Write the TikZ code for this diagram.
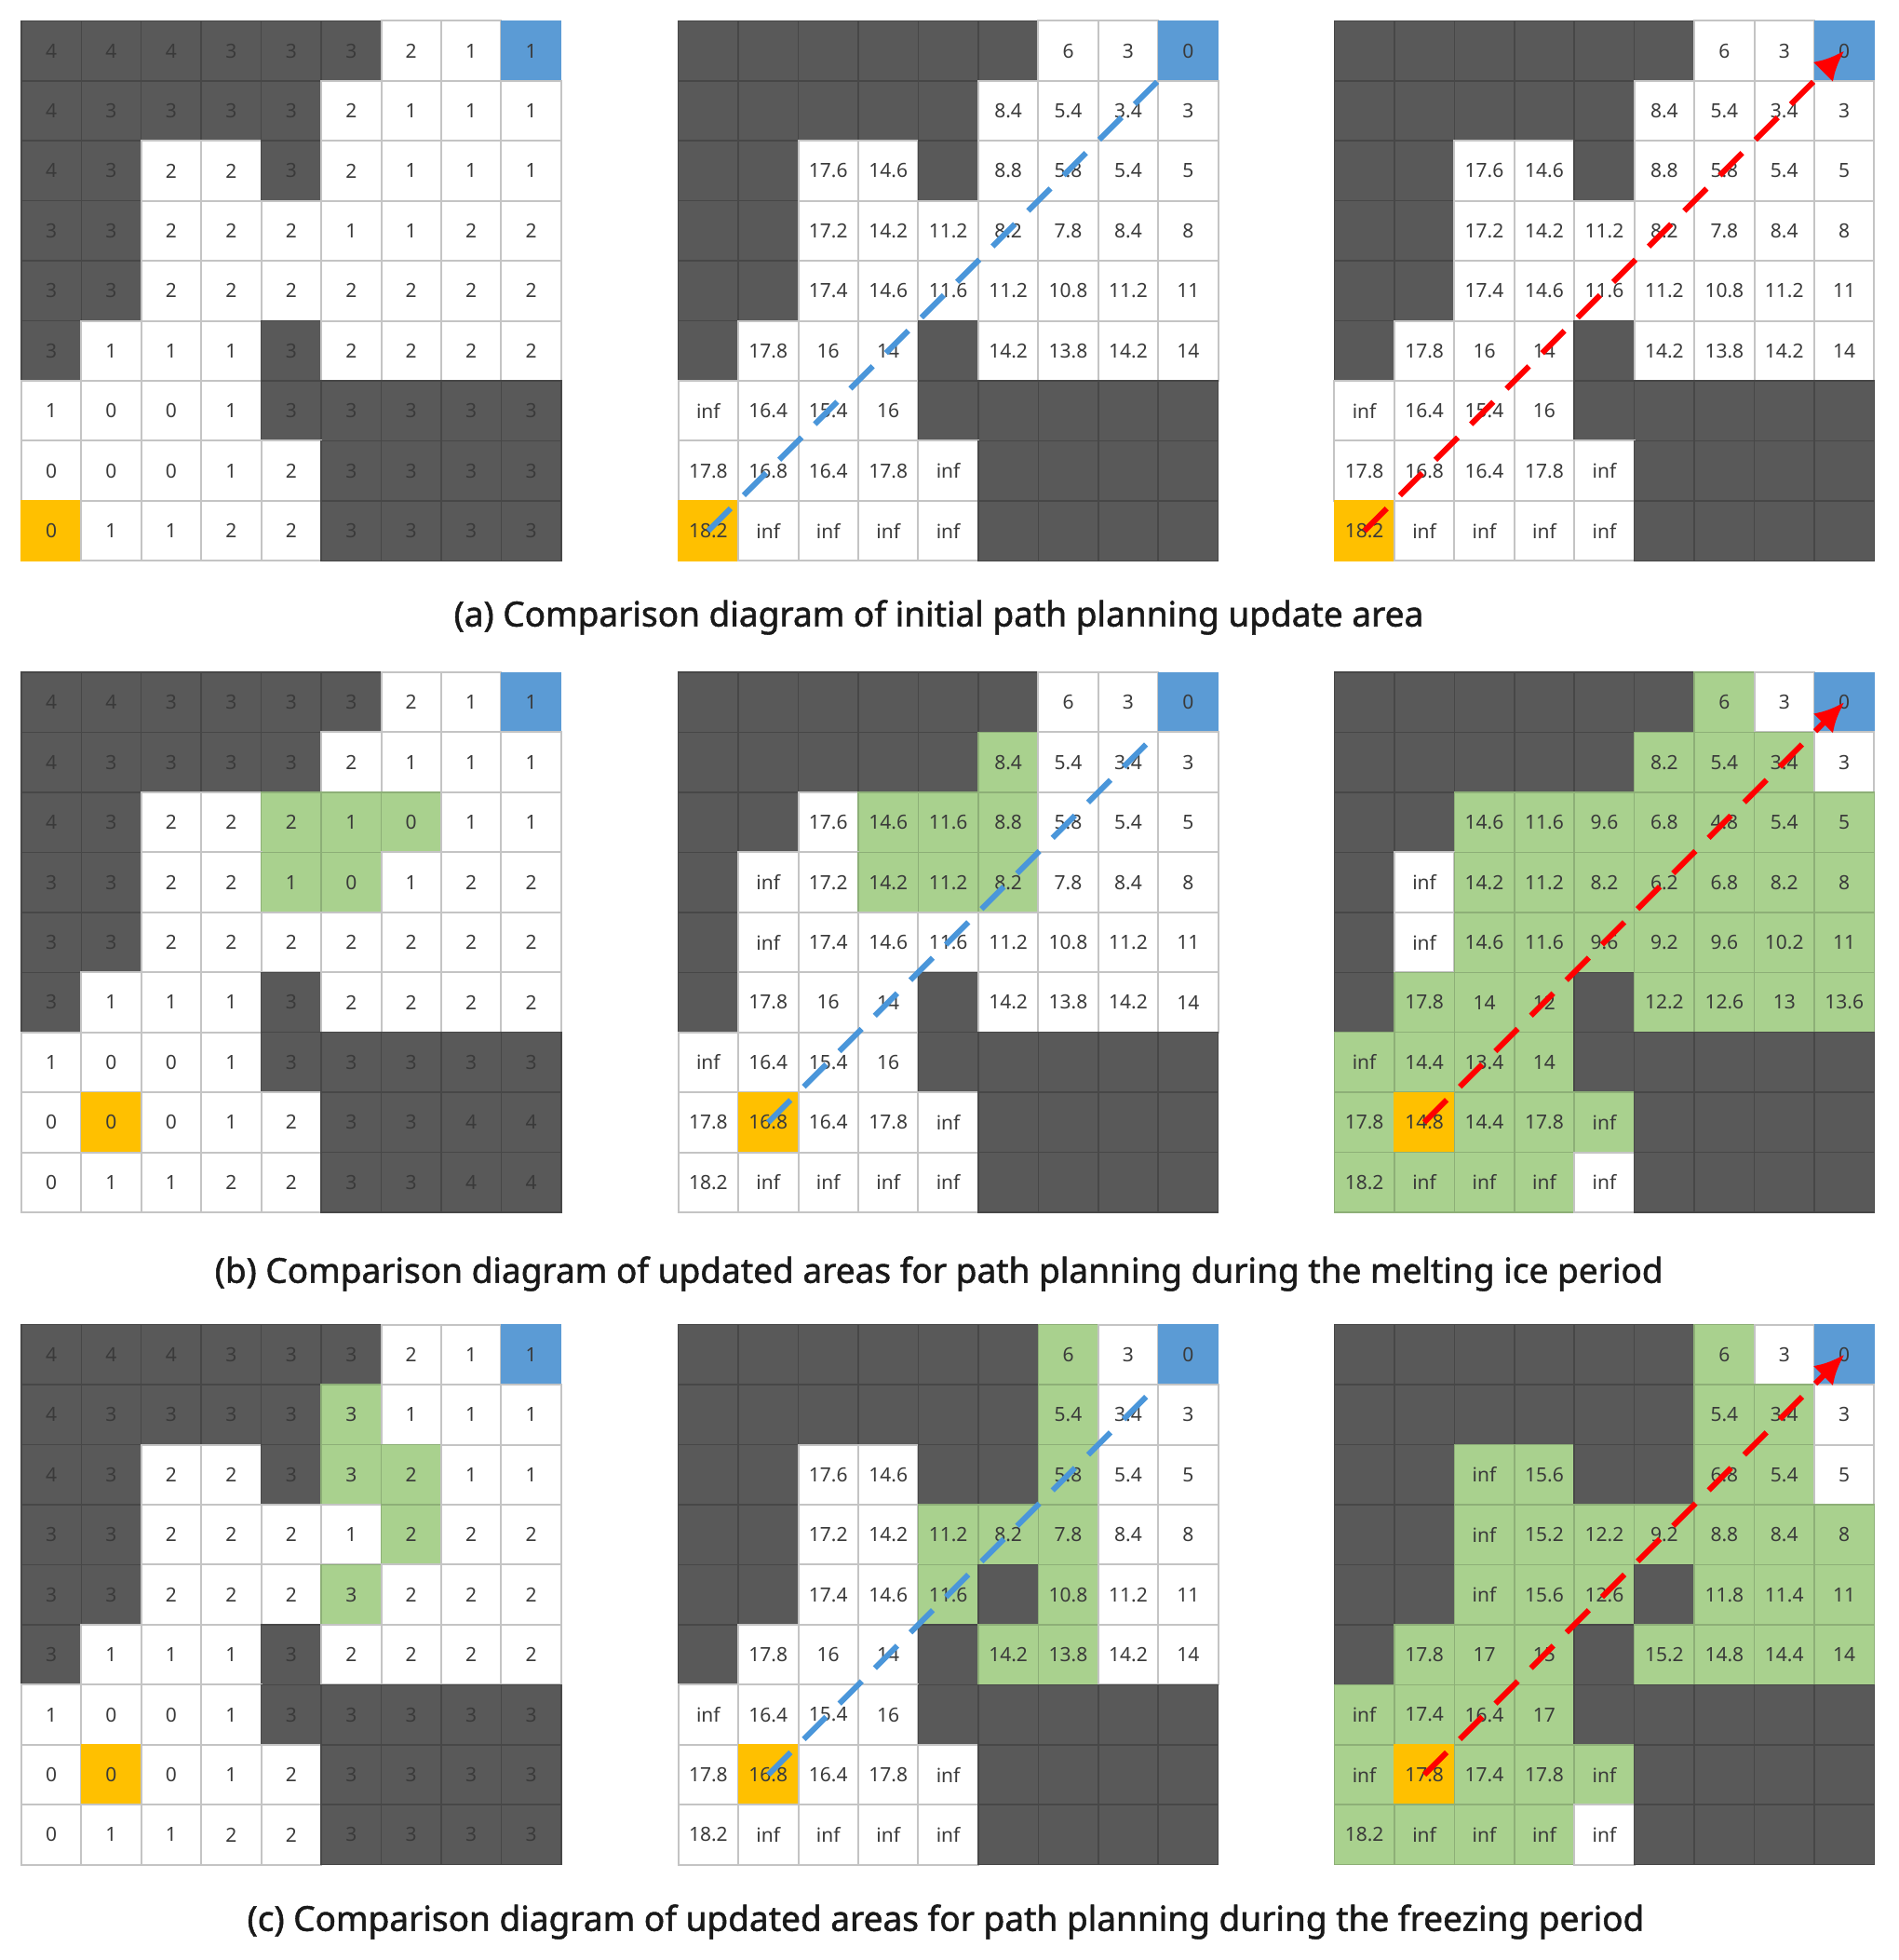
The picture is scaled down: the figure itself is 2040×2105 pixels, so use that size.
\documentclass[tikz,border=0pt]{standalone}
\usepackage{fontspec}
\setmainfont{Noto Sans}
\newfontfamily\capfont{Noto Sans}[FakeBold=1.4]
\usetikzlibrary{arrows.meta}
\definecolor{obst}{HTML}{595959}
\definecolor{obstline}{HTML}{474747}
\definecolor{gridln}{HTML}{C4C4C4}
\definecolor{greenc}{HTML}{A9D18E}
\definecolor{greenln}{HTML}{8DAF77}
\definecolor{bluec}{HTML}{5B9BD5}
\definecolor{yellowc}{HTML}{FFC000}
\definecolor{txt}{HTML}{3A3A3A}
\definecolor{pathblue}{HTML}{4A96DA}
\definecolor{pathred}{HTML}{FF0000}
\tikzset{
  cell/.style={rectangle, minimum width=64.45pt, minimum height=64.45pt,
    inner sep=0pt, outer sep=0pt, text=txt, font=\fontsize{21}{25}\selectfont},
  cW/.style={cell, fill=white, draw=gridln, line width=2pt},
  cD/.style={cell, fill=obst, draw=obstline, line width=1.5pt},
  cG/.style={cell, fill=greenc, draw=greenln, line width=1.5pt},
  cB/.style={cell, fill=bluec, draw=bluec, line width=1pt},
  cY/.style={cell, fill=yellowc, draw=yellowc, line width=1pt},
  bluepath/.style={draw=pathblue, line width=6pt, dash pattern=on 34pt off 20pt},
  redpath/.style={draw=pathred, line width=6pt, dash pattern=on 34pt off 20pt,
    -{Latex[length=32pt,width=30pt]}},
  caption/.style={font=\fontsize{37}{44}\capfont, text=black!90, inner sep=0pt}
}
\newcommand\drawgrid[4]{%
  \foreach \rowdata [count=\ri] in {#4} {%
    \foreach \ty/\tv [count=\ci] in \rowdata {%
      \node[c\ty] (#1-\ri-\ci) at ({#2+(\ci-0.5)*64.45},{#3+(\ri-0.5)*64.45}) {\tv};
    }
  }%
}
\begin{document}
\begin{tikzpicture}[x=1pt,y=-1pt]
\useasboundingbox[fill=white] (0,0) rectangle (2040,2105);
% ---------- row (a)
\drawgrid{a1}{22.8}{22.3}{
{D/4,D/4,D/4,D/3,D/3,D/3,W/2,W/1,B/1},
{D/4,D/3,D/3,D/3,D/3,W/2,W/1,W/1,W/1},
{D/4,D/3,W/2,W/2,D/3,W/2,W/1,W/1,W/1},
{D/3,D/3,W/2,W/2,W/2,W/1,W/1,W/2,W/2},
{D/3,D/3,W/2,W/2,W/2,W/2,W/2,W/2,W/2},
{D/3,W/1,W/1,W/1,D/3,W/2,W/2,W/2,W/2},
{W/1,W/0,W/0,W/1,D/3,D/3,D/3,D/3,D/3},
{W/0,W/0,W/0,W/1,W/2,D/3,D/3,D/3,D/3},
{Y/0,W/1,W/1,W/2,W/2,D/3,D/3,D/3,D/3}}
\drawgrid{a2}{728.6}{22.3}{
{D/{},D/{},D/{},D/{},D/{},D/{},W/6,W/3,B/0},
{D/{},D/{},D/{},D/{},D/{},W/8.4,W/5.4,W/3.4,W/3},
{D/{},D/{},W/17.6,W/14.6,D/{},W/8.8,W/5.8,W/5.4,W/5},
{D/{},D/{},W/17.2,W/14.2,W/11.2,W/8.2,W/7.8,W/8.4,W/8},
{D/{},D/{},W/17.4,W/14.6,W/11.6,W/11.2,W/10.8,W/11.2,W/11},
{D/{},W/17.8,W/16,W/14,D/{},W/14.2,W/13.8,W/14.2,W/14},
{W/inf,W/16.4,W/15.4,W/16,D/{},D/{},D/{},D/{},D/{}},
{W/17.8,W/16.8,W/16.4,W/17.8,W/inf,D/{},D/{},D/{},D/{}},
{Y/18.2,W/inf,W/inf,W/inf,W/inf,D/{},D/{},D/{},D/{}}}
\drawgrid{a3}{1433.4}{22.3}{
{D/{},D/{},D/{},D/{},D/{},D/{},W/6,W/3,B/0},
{D/{},D/{},D/{},D/{},D/{},W/8.4,W/5.4,W/3.4,W/3},
{D/{},D/{},W/17.6,W/14.6,D/{},W/8.8,W/5.8,W/5.4,W/5},
{D/{},D/{},W/17.2,W/14.2,W/11.2,W/8.2,W/7.8,W/8.4,W/8},
{D/{},D/{},W/17.4,W/14.6,W/11.6,W/11.2,W/10.8,W/11.2,W/11},
{D/{},W/17.8,W/16,W/14,D/{},W/14.2,W/13.8,W/14.2,W/14},
{W/inf,W/16.4,W/15.4,W/16,D/{},D/{},D/{},D/{},D/{}},
{W/17.8,W/16.8,W/16.4,W/17.8,W/inf,D/{},D/{},D/{},D/{}},
{Y/18.2,W/inf,W/inf,W/inf,W/inf,D/{},D/{},D/{},D/{}}}
\draw[bluepath] (a2-9-1.center) -- (a2-1-9.south west);
\draw[redpath] (a3-9-1.center) -- (a3-1-9.center);
\node[caption] (capa) at (1008.5,663) {(a) Comparison diagram of initial path planning update area};
% ---------- row (b)
\drawgrid{b1}{22.8}{722}{
{D/4,D/4,D/3,D/3,D/3,D/3,W/2,W/1,B/1},
{D/4,D/3,D/3,D/3,D/3,W/2,W/1,W/1,W/1},
{D/4,D/3,W/2,W/2,G/2,G/1,G/0,W/1,W/1},
{D/3,D/3,W/2,W/2,G/1,G/0,W/1,W/2,W/2},
{D/3,D/3,W/2,W/2,W/2,W/2,W/2,W/2,W/2},
{D/3,W/1,W/1,W/1,D/3,W/2,W/2,W/2,W/2},
{W/1,W/0,W/0,W/1,D/3,D/3,D/3,D/3,D/3},
{W/0,Y/0,W/0,W/1,W/2,D/3,D/3,D/4,D/4},
{W/0,W/1,W/1,W/2,W/2,D/3,D/3,D/4,D/4}}
\drawgrid{b2}{728.6}{722}{
{D/{},D/{},D/{},D/{},D/{},D/{},W/6,W/3,B/0},
{D/{},D/{},D/{},D/{},D/{},G/8.4,W/5.4,W/3.4,W/3},
{D/{},D/{},W/17.6,G/14.6,G/11.6,G/8.8,W/5.8,W/5.4,W/5},
{D/{},W/inf,W/17.2,G/14.2,G/11.2,G/8.2,W/7.8,W/8.4,W/8},
{D/{},W/inf,W/17.4,W/14.6,W/11.6,W/11.2,W/10.8,W/11.2,W/11},
{D/{},W/17.8,W/16,W/14,D/{},W/14.2,W/13.8,W/14.2,W/14},
{W/inf,W/16.4,W/15.4,W/16,D/{},D/{},D/{},D/{},D/{}},
{W/17.8,Y/16.8,W/16.4,W/17.8,W/inf,D/{},D/{},D/{},D/{}},
{W/18.2,W/inf,W/inf,W/inf,W/inf,D/{},D/{},D/{},D/{}}}
\drawgrid{b3}{1433.4}{722}{
{D/{},D/{},D/{},D/{},D/{},D/{},G/6,W/3,B/0},
{D/{},D/{},D/{},D/{},D/{},G/8.2,G/5.4,G/3.4,W/3},
{D/{},D/{},G/14.6,G/11.6,G/9.6,G/6.8,G/4.8,G/5.4,G/5},
{D/{},W/inf,G/14.2,G/11.2,G/8.2,G/6.2,G/6.8,G/8.2,G/8},
{D/{},W/inf,G/14.6,G/11.6,G/9.6,G/9.2,G/9.6,G/10.2,G/11},
{D/{},G/17.8,G/14,G/12,D/{},G/12.2,G/12.6,G/13,G/13.6},
{G/inf,G/14.4,G/13.4,G/14,D/{},D/{},D/{},D/{},D/{}},
{G/17.8,Y/14.8,G/14.4,G/17.8,G/inf,D/{},D/{},D/{},D/{}},
{G/18.2,G/inf,G/inf,G/inf,W/inf,D/{},D/{},D/{},D/{}}}
\draw[bluepath] (b2-8-2.center) -- (b2-1-9.south west);
\draw[redpath] (b3-8-2.center) -- (b3-1-9.center);
\node[caption] (capb) at (1008.7,1368) {(b) Comparison diagram of updated areas for path planning during the melting ice period};
% ---------- row (c)
\drawgrid{c1}{22.8}{1422.6}{
{D/4,D/4,D/4,D/3,D/3,D/3,W/2,W/1,B/1},
{D/4,D/3,D/3,D/3,D/3,G/3,W/1,W/1,W/1},
{D/4,D/3,W/2,W/2,D/3,G/3,G/2,W/1,W/1},
{D/3,D/3,W/2,W/2,W/2,W/1,G/2,W/2,W/2},
{D/3,D/3,W/2,W/2,W/2,G/3,W/2,W/2,W/2},
{D/3,W/1,W/1,W/1,D/3,W/2,W/2,W/2,W/2},
{W/1,W/0,W/0,W/1,D/3,D/3,D/3,D/3,D/3},
{W/0,Y/0,W/0,W/1,W/2,D/3,D/3,D/3,D/3},
{W/0,W/1,W/1,W/2,W/2,D/3,D/3,D/3,D/3}}
\drawgrid{c2}{728.6}{1422.6}{
{D/{},D/{},D/{},D/{},D/{},D/{},G/6,W/3,B/0},
{D/{},D/{},D/{},D/{},D/{},D/{},G/5.4,W/3.4,W/3},
{D/{},D/{},W/17.6,W/14.6,D/{},D/{},G/5.8,W/5.4,W/5},
{D/{},D/{},W/17.2,W/14.2,G/11.2,G/8.2,G/7.8,W/8.4,W/8},
{D/{},D/{},W/17.4,W/14.6,G/11.6,D/{},G/10.8,W/11.2,W/11},
{D/{},W/17.8,W/16,W/14,D/{},G/14.2,G/13.8,W/14.2,W/14},
{W/inf,W/16.4,W/15.4,W/16,D/{},D/{},D/{},D/{},D/{}},
{W/17.8,Y/16.8,W/16.4,W/17.8,W/inf,D/{},D/{},D/{},D/{}},
{W/18.2,W/inf,W/inf,W/inf,W/inf,D/{},D/{},D/{},D/{}}}
\drawgrid{c3}{1433.4}{1422.6}{
{D/{},D/{},D/{},D/{},D/{},D/{},G/6,W/3,B/0},
{D/{},D/{},D/{},D/{},D/{},D/{},G/5.4,G/3.4,W/3},
{D/{},D/{},G/inf,G/15.6,D/{},D/{},G/6.8,G/5.4,W/5},
{D/{},D/{},G/inf,G/15.2,G/12.2,G/9.2,G/8.8,G/8.4,G/8},
{D/{},D/{},G/inf,G/15.6,G/12.6,D/{},G/11.8,G/11.4,G/11},
{D/{},G/17.8,G/17,G/15,D/{},G/15.2,G/14.8,G/14.4,G/14},
{G/inf,G/17.4,G/16.4,G/17,D/{},D/{},D/{},D/{},D/{}},
{G/inf,Y/17.8,G/17.4,G/17.8,G/inf,D/{},D/{},D/{},D/{}},
{G/18.2,G/inf,G/inf,G/inf,W/inf,D/{},D/{},D/{},D/{}}}
\draw[bluepath] (c2-8-2.center) -- (c2-1-9.south west);
\draw[redpath] (c3-8-2.center) -- (c3-1-9.center);
\node[caption] (capc) at (1016,2064) {(c) Comparison diagram of updated areas for path planning during the freezing period};
\end{tikzpicture}
\end{document}
